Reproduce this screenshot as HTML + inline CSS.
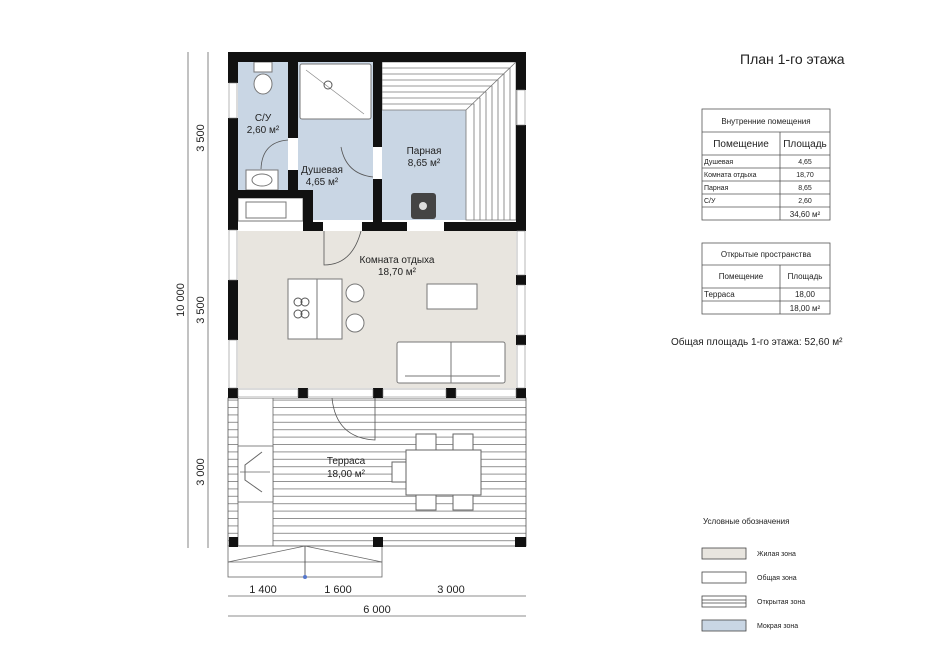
<!DOCTYPE html>
<html><head><meta charset="utf-8"><style>
body{margin:0;background:#fff}
svg{display:block}
text{font-family:"Liberation Sans","DejaVu Sans",sans-serif;fill:#222}
</style></head><body>
<svg width="936" height="662" viewBox="0 0 936 662" xmlns="http://www.w3.org/2000/svg">
<defs>
<pattern id="deck" width="6" height="7.4" patternUnits="userSpaceOnUse"><rect width="6" height="7.4" fill="#fff"/><line x1="0" y1="0.5" x2="6" y2="0.5" stroke="#777" stroke-width="0.8"/></pattern>
</defs>
<!-- terrace -->
<rect x="228" y="398" width="298" height="148" fill="url(#deck)" stroke="#555" stroke-width="0.8"/>
<rect x="238" y="398" width="35" height="148" fill="#fff" stroke="#666" stroke-width="0.8"/>
<rect x="238" y="446" width="35" height="56" fill="#fff" stroke="#666" stroke-width="0.8"/>
<polyline points="262,452 245,465 245,480 262,492" fill="none" stroke="#666"/><line x1="240" y1="472" x2="270" y2="472" stroke="#666" stroke-width="0.7"/>
<!-- terrace door -->
<path d="M332 398 Q336 438 375 440 L375 398" fill="none" stroke="#555" stroke-width="0.8"/>
<!-- dining -->
<rect x="416" y="434" width="20" height="16" fill="#fff" stroke="#666"/><rect x="453" y="434" width="20" height="16" fill="#fff" stroke="#666"/>
<rect x="416" y="494" width="20" height="16" fill="#fff" stroke="#666"/><rect x="453" y="494" width="20" height="16" fill="#fff" stroke="#666"/>
<rect x="392" y="462" width="16" height="20" fill="#fff" stroke="#666"/>
<rect x="406" y="450" width="75" height="45" fill="#fff" stroke="#666"/>
<text x="346" y="464" font-size="10" text-anchor="middle">Терраса</text>
<text x="346" y="477" font-size="10" text-anchor="middle">18,00 м²</text>
<!-- steps -->
<rect x="228" y="546" width="154" height="31" fill="#fff" stroke="#666" stroke-width="0.8"/>
<polyline points="228,562 305,546 382,562" fill="none" stroke="#666" stroke-width="0.8"/>
<line x1="228" y1="562" x2="382" y2="562" stroke="#666" stroke-width="0.8"/>
<line x1="305" y1="546" x2="305" y2="577" stroke="#444" stroke-width="0.8"/><circle cx="305" cy="577" r="2" fill="#5577cc"/>
<!-- posts terrace -->
<rect x="229" y="537" width="9" height="10" fill="#111"/><rect x="373" y="537" width="10" height="10" fill="#111"/><rect x="515" y="537" width="11" height="10" fill="#111"/>
<!-- interior fills -->
<rect x="228" y="52" width="298" height="346" fill="#fff"/>
<rect x="238" y="231" width="278" height="157" fill="#e8e5df"/>
<rect x="238" y="62" width="50" height="128" fill="#c9d6e4"/>
<rect x="298" y="62" width="75" height="158" fill="#c9d6e4"/>
<rect x="382" y="62" width="134" height="158" fill="#c9d6e4"/>
<!-- sauna benches -->
<polygon points="382,62 516,62 516,220 466,220 466,110 382,110" fill="#fff" stroke="#777" stroke-width="0.8"/>
<path d="M382 68 H510 V220 M382 74 H504 V220 M382 80 H498 V220 M382 86 H492 V220 M382 92 H486 V220 M382 98 H480 V220 M382 104 H474 V220 M516 62 L466 110" fill="none" stroke="#777" stroke-width="0.8"/>
<!-- shower tray -->
<rect x="300" y="64" width="71" height="55" fill="#fff" stroke="#777" rx="2"/>
<line x1="306" y1="70" x2="364" y2="114" stroke="#888" stroke-width="0.7"/><circle cx="328" cy="85" r="4" fill="none" stroke="#555"/>
<!-- toilet -->
<ellipse cx="263" cy="84" rx="9" ry="10" fill="#fff" stroke="#777"/><rect x="254" y="62" width="18" height="10" fill="#fff" stroke="#777"/>
<rect x="246" y="170" width="32" height="20" fill="#fff" stroke="#777"/><ellipse cx="262" cy="180" rx="10" ry="6" fill="none" stroke="#777"/>
<!-- kitchen sink -->
<rect x="238" y="198" width="65" height="23" fill="#fff" stroke="#777"/><rect x="246" y="202" width="40" height="16" fill="#fff" stroke="#777"/>
<!-- stove -->
<rect x="411" y="193" width="25" height="26" rx="3" fill="#444"/><circle cx="423" cy="206" r="4" fill="#ddd"/>
<!-- doors -->
<g fill="none" stroke="#555" stroke-width="0.8">
<path d="M261 169 Q262 142 288 140"/><path d="M341 147 Q346 174 373 177"/><path d="M324 231 L324 265 Q352 265 361 231"/>
</g>
<rect x="288" y="138" width="10" height="32" fill="#fff"/><rect x="373" y="147" width="9" height="32" fill="#fff"/>
<!-- walls -->
<g fill="#111">
<rect x="228" y="52" width="298" height="10"/>
<rect x="228" y="52" width="10" height="31"/><rect x="228" y="118" width="10" height="112"/><rect x="228" y="280" width="10" height="60"/><rect x="228" y="388" width="10" height="10"/>
<rect x="516" y="52" width="10" height="38"/><rect x="516" y="125" width="10" height="106"/><rect x="516" y="275" width="10" height="10"/><rect x="516" y="335" width="10" height="10"/><rect x="516" y="388" width="10" height="10"/>
<rect x="288" y="62" width="10" height="76"/><rect x="288" y="170" width="10" height="20"/>
<rect x="373" y="62" width="9" height="85"/><rect x="373" y="179" width="9" height="52"/>
<rect x="238" y="190" width="65" height="8"/><rect x="303" y="190" width="10" height="41"/><rect x="313" y="222" width="10" height="9"/>
<rect x="362" y="222" width="45" height="9"/><rect x="444" y="222" width="72" height="9"/>
<rect x="298" y="388" width="10" height="10"/><rect x="373" y="388" width="10" height="10"/><rect x="446" y="388" width="10" height="10"/>
</g>
<g fill="#fff" stroke="#888" stroke-width="0.6">
<rect x="229" y="83" width="8" height="35"/><rect x="229" y="230" width="8" height="50"/><rect x="229" y="340" width="8" height="48"/>
<rect x="517" y="90" width="8" height="35"/><rect x="517" y="231" width="8" height="44"/><rect x="517" y="285" width="8" height="50"/><rect x="517" y="345" width="8" height="43"/>
<rect x="238" y="389" width="60" height="8"/><rect x="308" y="389" width="65" height="8"/><rect x="383" y="389" width="63" height="8"/><rect x="456" y="389" width="60" height="8"/>
</g>
<!-- living furniture -->
<rect x="288" y="279" width="29" height="60" fill="#fff" stroke="#777"/><rect x="317" y="279" width="25" height="60" fill="#fff" stroke="#777"/>
<circle cx="298" cy="302" r="4" fill="none" stroke="#555"/><circle cx="305" cy="302" r="4" fill="none" stroke="#555"/><circle cx="298" cy="314" r="4" fill="none" stroke="#555"/><circle cx="305" cy="314" r="4" fill="none" stroke="#555"/>
<circle cx="355" cy="293" r="9" fill="#fff" stroke="#777"/><circle cx="355" cy="323" r="9" fill="#fff" stroke="#777"/>
<rect x="427" y="284" width="50" height="25" fill="#fff" stroke="#777"/>
<rect x="397" y="342" width="108" height="41" fill="#fff" stroke="#777" rx="2"/><line x1="451" y1="342" x2="451" y2="383" stroke="#777"/><line x1="405" y1="376" x2="500" y2="376" stroke="#777"/>
<!-- room labels -->
<g font-size="10" text-anchor="middle">
<text x="263" y="121">С/У</text><text x="263" y="133">2,60 м²</text>
<text x="322" y="173">Душевая</text><text x="322" y="185">4,65 м²</text>
<text x="424" y="154">Парная</text><text x="424" y="166">8,65 м²</text>
<text x="397" y="263">Комната отдыха</text><text x="397" y="275">18,70 м²</text>
</g>
<!-- dimensions -->
<g stroke="#666" stroke-width="0.8">
<line x1="188" y1="52" x2="188" y2="548"/><line x1="208" y1="52" x2="208" y2="548"/>
<line x1="228" y1="596" x2="526" y2="596"/><line x1="228" y1="616" x2="526" y2="616"/>
</g>
<g font-size="11" fill="#222">
<text transform="translate(184,300) rotate(-90)" text-anchor="middle">10 000</text>
<text transform="translate(204,138) rotate(-90)" text-anchor="middle">3 500</text>
<text transform="translate(204,310) rotate(-90)" text-anchor="middle">3 500</text>
<text transform="translate(204,472) rotate(-90)" text-anchor="middle">3 000</text>
<text x="263" y="593" text-anchor="middle">1 400</text><text x="338" y="593" text-anchor="middle">1 600</text><text x="451" y="593" text-anchor="middle">3 000</text>
<text x="377" y="613" text-anchor="middle">6 000</text>
</g>
<!-- title -->
<text x="740" y="64" font-size="14">План 1-го этажа</text>
<!-- tables -->
<g stroke="#555" stroke-width="0.8" fill="none">
<rect x="702" y="109" width="128" height="111"/>
<line x1="702" y1="132" x2="830" y2="132"/><line x1="702" y1="155" x2="830" y2="155"/><line x1="702" y1="168" x2="830" y2="168"/><line x1="702" y1="181" x2="830" y2="181"/><line x1="702" y1="194" x2="830" y2="194"/><line x1="702" y1="207" x2="830" y2="207"/>
<line x1="780" y1="132" x2="780" y2="220"/>
<rect x="702" y="243" width="128" height="71"/>
<line x1="702" y1="265" x2="830" y2="265"/><line x1="702" y1="288" x2="830" y2="288"/><line x1="702" y1="301" x2="830" y2="301"/><line x1="780" y1="265" x2="780" y2="314"/>
</g>
<g font-size="8">
<text x="766" y="124" text-anchor="middle">Внутренние помещения</text>
<text x="741" y="147" text-anchor="middle" font-size="10">Помещение</text><text x="805" y="147" text-anchor="middle" font-size="10">Площадь</text>
<text x="704" y="164" font-size="7">Душевая</text><text x="805" y="164" text-anchor="middle" font-size="7">4,65</text>
<text x="704" y="177" font-size="7">Комната отдыха</text><text x="805" y="177" text-anchor="middle" font-size="7">18,70</text>
<text x="704" y="190" font-size="7">Парная</text><text x="805" y="190" text-anchor="middle" font-size="7">8,65</text>
<text x="704" y="203" font-size="7">С/У</text><text x="805" y="203" text-anchor="middle" font-size="7">2,60</text>
<text x="805" y="217" text-anchor="middle">34,60 м²</text>
<text x="766" y="257" text-anchor="middle">Открытые пространства</text>
<text x="741" y="279" text-anchor="middle">Помещение</text><text x="805" y="279" text-anchor="middle">Площадь</text>
<text x="704" y="297">Терраса</text><text x="805" y="297" text-anchor="middle">18,00</text>
<text x="805" y="311" text-anchor="middle">18,00 м²</text>
</g>
<text x="671" y="345" font-size="10">Общая площадь 1-го этажа:  52,60 м²</text>
<!-- legend -->
<text x="703" y="524" font-size="8">Условные обозначения</text>
<g stroke="#444" stroke-width="0.8">
<rect x="702" y="548" width="44" height="11" fill="#e8e5df"/>
<rect x="702" y="572" width="44" height="11" fill="#fff"/>
<rect x="702" y="596" width="44" height="11" fill="#fff"/><line x1="702" y1="600" x2="746" y2="600"/><line x1="702" y1="603" x2="746" y2="603"/>
<rect x="702" y="620" width="44" height="11" fill="#c9d6e4"/>
</g>
<g font-size="7"><text x="757" y="556">Жилая зона</text><text x="757" y="580">Общая зона</text><text x="757" y="604">Открытая зона</text><text x="757" y="628">Мокрая зона</text></g>
</svg>
</body></html>
